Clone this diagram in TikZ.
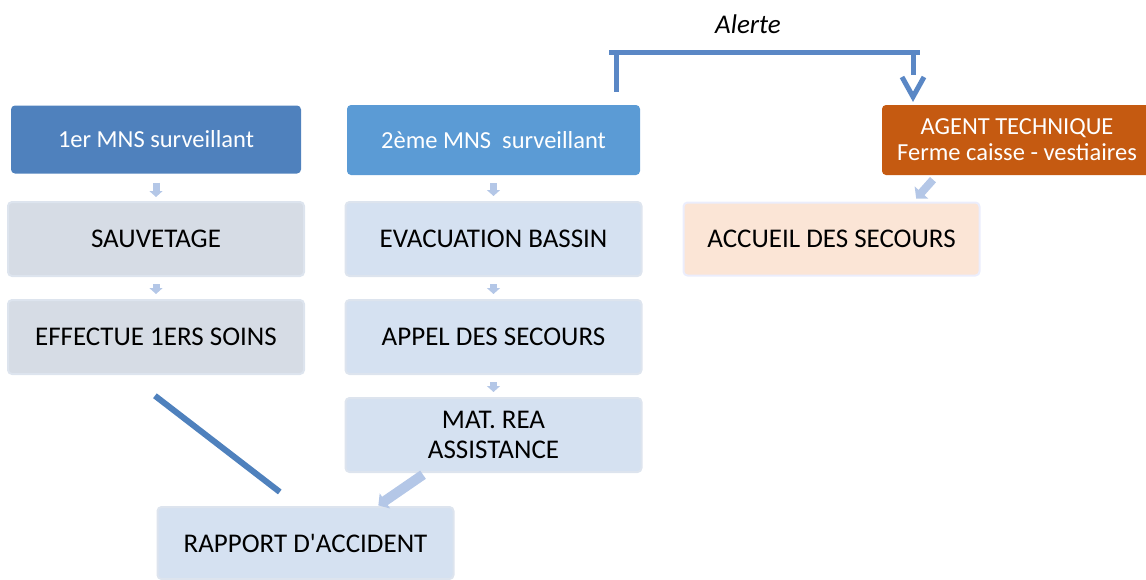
\documentclass[tikz,border=0pt]{standalone}
\usepackage{fontspec}
\setmainfont{Carlito}[Ligatures=TeXOff]
\usetikzlibrary{arrows.meta}
\definecolor{bleufonce}{HTML}{4F81BD}
\definecolor{bleumoyen}{HTML}{5B9BD5}
\definecolor{orange}{HTML}{C55A11}
\definecolor{grisbleu}{HTML}{D6DCE5}
\definecolor{bleuclair}{HTML}{D5E1F1}
\definecolor{peche}{HTML}{FBE5D6}
\definecolor{bord}{HTML}{DDE4EE}
\definecolor{fleche}{HTML}{B4C7E7}
\definecolor{trait}{HTML}{5A87C5}
\tikzset{
  boite/.style={rounded corners=4pt, minimum width=296pt, minimum height=74pt,
    align=center, font=\fontsize{27}{31}\selectfont, inner sep=0pt},
  chef/.style={boite, fill=#1, text=white, minimum width=290pt, minimum height=68pt,
    font=\fontsize{24.5}{29}\selectfont},
  tache/.style={boite, fill=#1, draw=bord, line width=2pt},
  petite/.style={fleche, line width=7pt, -{Triangle[length=6pt, width=13pt]}},
  grosse/.style={fleche, line width=10pt, -{Triangle[length=8pt, width=18pt]}},
}

\begin{document}
\begin{tikzpicture}[x=1pt, y=-1pt]
  \useasboundingbox (0, 0) rectangle (1146, 579);
  % premiere colonne
  \node[chef=bleufonce] (mns1) at (156, 139.5) {1er MNS surveillant};
  \node[tache=grisbleu] (sauv) at (156, 239) {SAUVETAGE};
  \node[tache=grisbleu] (soins) at (156, 337) {EFFECTUE 1ERS SOINS};
  % deuxieme colonne
  \node[chef=bleumoyen, minimum width=293pt, minimum height=70pt] (mns2) at (493.5, 140) {2ème MNS\ \ surveillant};
  \node[tache=bleuclair] (evac) at (493.5, 239) {EVACUATION BASSIN};
  \node[tache=bleuclair] (appel) at (493.5, 337) {APPEL DES SECOURS};
  \node[tache=bleuclair, font=\fontsize{27}{30}\selectfont] (mat) at (493.5, 435) {MAT. REA\\ASSISTANCE};
  \node[tache=bleuclair, minimum height=72pt] (rapport) at (305.5, 543) {RAPPORT D'ACCIDENT};
  % agent technique
  \node[chef=orange, minimum width=270pt, minimum height=70pt, font=\fontsize{24.5}{26}\selectfont] (agent) at (1017, 140) {AGENT TECHNIQUE\\Ferme caisse - vestiaires};
  \node[tache=peche, draw=bord!80!blue!25, minimum height=73pt] (accueil) at (831.5, 239) {ACCUEIL DES SECOURS};
  % petites fleches
  \draw[petite, shorten <=9pt, shorten >=4pt] (mns1.south) -- (sauv.north);
  \draw[petite, shorten <=7pt, shorten >=5pt] (sauv.south) -- (soins.north);
  \draw[petite, shorten <=8pt, shorten >=5pt] (mns2.south) -- (evac.north);
  \draw[petite, shorten <=7pt, shorten >=5pt] (evac.south) -- (appel.north);
  \draw[petite, shorten <=7pt, shorten >=5pt] (appel.south) -- (mat.north);
  \draw[grosse, shorten <=3pt, shorten >=1pt] ([xshift=-68pt]mat.south) -- ([xshift=72pt]rapport.north);
  \draw[grosse, line width=8pt, shorten <=6pt, shorten >=4pt] ([xshift=-80pt]agent.south) -- ([xshift=82pt]accueil.north);
  \draw[bleufonce, line width=6pt, shorten <=34pt, shorten >=23pt] ([xshift=-28pt]soins.south) -- ([xshift=-7.5pt]rapport.north);
  % alerte
  \coordinate (gauche) at (609, 52);
  \coordinate (droite) at (920, 52);
  \draw[trait, line width=5pt] (gauche) -- (droite);
  \draw[trait, line width=5pt] ([xshift=7pt]gauche) -- ([xshift=122.5pt, yshift=13pt]mns2.north);
  \draw[trait, line width=5pt] ([xshift=-7pt]droite) -- ++(0, 23);
  \draw[trait, line width=5pt] (902, 77) -- ([xshift=-104pt, yshift=8pt]agent.north) -- (924, 77);
  \node[font=\fontsize{27}{31}\selectfont\itshape] (alerte) at (748, 24) {Alerte};
\end{tikzpicture}
\end{document}
